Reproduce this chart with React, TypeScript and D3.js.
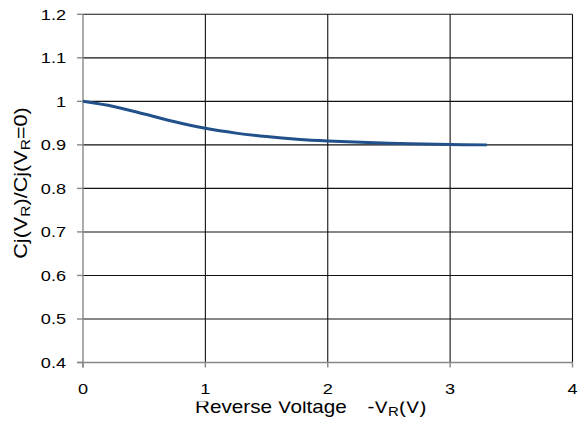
import React from "react";
import * as d3 from "d3";

const voltage = [0, 0.25, 0.5, 0.75, 1, 1.25, 1.5, 1.75, 2, 2.5, 3, 3.3];
const ratio = [1.0, 0.988, 0.971, 0.953, 0.938, 0.927, 0.919, 0.913, 0.909, 0.904, 0.901, 0.9];
const xTicks = [0, 1, 2, 3, 4];
const yTicks = [0.4, 0.5, 0.6, 0.7, 0.8, 0.9, 1.0, 1.1, 1.2];

const W = 584;
const H = 423;
const L = 83;
const R = 572.5;
const T = 14.3;
const B = 362.5;
const FONT = "'Liberation Sans', Arial, sans-serif";

export default function App() {
  const x = d3.scaleLinear().domain([0, 4]).range([L, R]);
  const y = d3.scaleLinear().domain([0.4, 1.2]).range([B, T]);
  const line = d3
    .line<number>()
    .x((_, i) => x(voltage[i]))
    .y((d) => y(d))
    .curve(d3.curveCatmullRom.alpha(0.5));

  const fmt = (v: number) => (Math.abs(v - 1) < 1e-9 ? "1" : d3.format(".1f")(v));

  return (
    <svg
      width={W}
      height={H}
      style={{ position: "absolute", left: 0, top: 0, background: "#fff" }}
      fontFamily={FONT}
    >
      <defs>
        <clipPath id="titleClip">
          <rect x={0} y={401.5} width={W} height={H - 401.5} />
        </clipPath>
      </defs>
      <rect x={0} y={0} width={W} height={H} fill="#fff" />
      {yTicks.slice(1).map((t) => (
        <line key={"h" + t} x1={L} x2={R} y1={y(t)} y2={y(t)} stroke="#111" strokeWidth={1.1} />
      ))}
      {xTicks.slice(1).map((t) => (
        <line key={"v" + t} x1={x(t)} x2={x(t)} y1={T} y2={B} stroke="#111" strokeWidth={1.1} />
      ))}
      <line x1={L} x2={L} y1={T} y2={B + 5} stroke="#888" strokeWidth={1.4} />
      <line x1={L - 6} x2={R} y1={B} y2={B} stroke="#888" strokeWidth={1.4} />
      {yTicks.map((t) => (
        <line key={"yt" + t} x1={L - 6} x2={L} y1={y(t)} y2={y(t)} stroke="#888" strokeWidth={1.4} />
      ))}
      {xTicks.map((t) => (
        <line key={"xt" + t} x1={x(t)} x2={x(t)} y1={B} y2={B + 5} stroke="#888" strokeWidth={1.4} />
      ))}
      {yTicks.map((t) => (
        <text
          key={"yl" + t}
          transform={`translate(${L - 17},${y(t) + 5.5}) scale(1.17,1)`}
          textAnchor="end"
          fontSize={15.5}
          fill="#000"
        >
          {fmt(t)}
        </text>
      ))}
      {xTicks.map((t) => (
        <text
          key={"xl" + t}
          transform={`translate(${x(t)},${B + 31}) scale(1.17,1)`}
          textAnchor="middle"
          fontSize={15.5}
          fill="#000"
        >
          {t}
        </text>
      ))}
      <path d={line(ratio) || ""} fill="none" stroke="#21508a" strokeWidth={3} strokeLinecap="butt" />
      <g clipPath="url(#titleClip)">
        <text transform={`translate(195,413) scale(1.15,1)`} fontSize={18} fill="#000">
          <tspan>Reverse Voltage</tspan>
          <tspan dx={18}>-V</tspan>
          <tspan fontSize={13} dy={3}>R</tspan>
          <tspan dy={-3}>(V)</tspan>
        </text>
      </g>
      <text
        transform={`translate(27,183) rotate(-90) scale(1.2,1)`}
        textAnchor="middle"
        fontSize={18}
        fill="#000"
      >
        <tspan>Cj(V</tspan>
        <tspan fontSize={13} dy={3}>R</tspan>
        <tspan dy={-3}>)/Cj(V</tspan>
        <tspan fontSize={13} dy={3}>R</tspan>
        <tspan dy={-3}>=0)</tspan>
      </text>
    </svg>
  );
}
